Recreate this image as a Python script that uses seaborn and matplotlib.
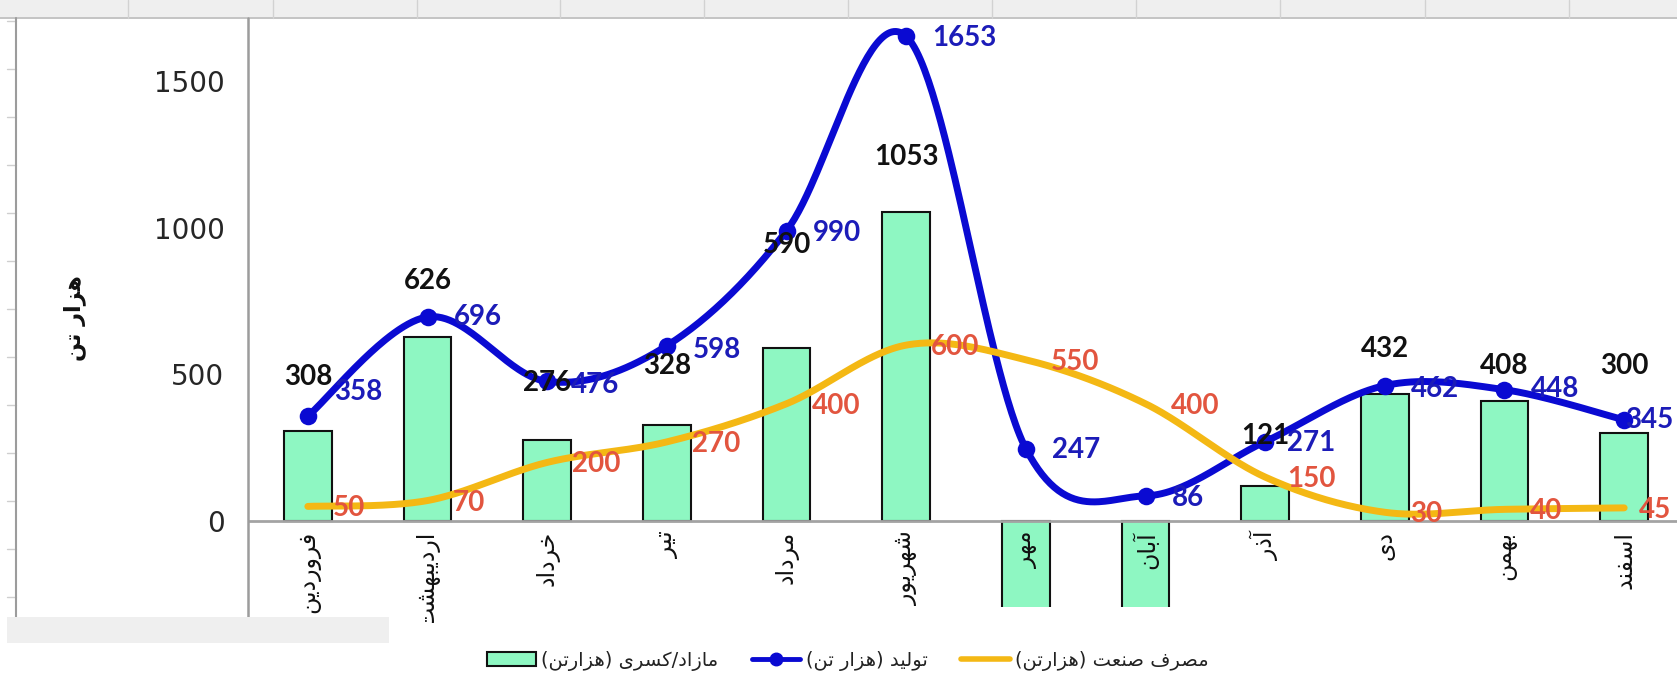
import numpy as np
import pandas as pd
import matplotlib
matplotlib.use("Agg")
import matplotlib.pyplot as plt
import matplotlib.transforms as mtransforms
from matplotlib.lines import Line2D
from matplotlib.patches import Rectangle
import seaborn as sns

# ---------------------------------------------------------------- data
months = ["فروردین", "اردیبهشت", "خرداد", "تیر", "مرداد", "شهریور",
          "مهر", "آبان", "آذر", "دی", "بهمن", "اسفند"]
production = [358, 696, 476, 598, 990, 1653, 247, 86, 271, 462, 448, 345]
consumption = [50, 70, 200, 270, 400, 600, 550, 400, 150, 30, 40, 45]
balance = [308, 626, 276, 328, 590, 1053, -303, -314, 121, 432, 408, 300]

y_caption = "هزار تن"
bar_name = "مازاد/کسری (هزارتن)"
prod_name = "تولید (هزار تن)"
cons_name = "مصرف صنعت (هزارتن)"
y_ticks = [0, 500, 1000, 1500]

# label placement (pixel offsets from the mark)
bar_label_dy = [54, 56, 57, 59, 103, 55, -30, -30, 50, 45, 35, 67]
prod_label_dx = [26, 26, 24, 26, 26, 26, 26, 26, 22, 26, 26, 1]
prod_label_dy = [24, 0, -4, -4, -2, -2, -1, -2, -1, -3, 1, 0]
cons_label_dx = [25, 25, 25, 25, 25, 25, 25, 25, 22, 25, 25, 15]

# colours
MINT = "#8ef7c2"
BLUE = "#0a0ad2"
BLUE_TXT = "#1c1cb8"
GOLD = "#f4b814"
RED_TXT = "#e2553f"


# ------------------------------------------------ Persian text shaping
_FORMS = {
    "ا": (0xFE8D, 0xFE8E, None, None),
    "آ": (0xFE81, 0xFE82, None, None),
    "د": (0xFEA9, 0xFEAA, None, None),
    "ذ": (0xFEAB, 0xFEAC, None, None),
    "ر": (0xFEAD, 0xFEAE, None, None),
    "ز": (0xFEAF, 0xFEB0, None, None),
    "و": (0xFEED, 0xFEEE, None, None),
    "ب": (0xFE8F, 0xFE90, 0xFE91, 0xFE92),
    "ت": (0xFE95, 0xFE96, 0xFE97, 0xFE98),
    "خ": (0xFEA5, 0xFEA6, 0xFEA7, 0xFEA8),
    "س": (0xFEB1, 0xFEB2, 0xFEB3, 0xFEB4),
    "ش": (0xFEB5, 0xFEB6, 0xFEB7, 0xFEB8),
    "ص": (0xFEB9, 0xFEBA, 0xFEBB, 0xFEBC),
    "ع": (0xFEC9, 0xFECA, 0xFECB, 0xFECC),
    "ف": (0xFED1, 0xFED2, 0xFED3, 0xFED4),
    "ل": (0xFEDD, 0xFEDE, 0xFEDF, 0xFEE0),
    "م": (0xFEE1, 0xFEE2, 0xFEE3, 0xFEE4),
    "ن": (0xFEE5, 0xFEE6, 0xFEE7, 0xFEE8),
    "ه": (0xFEE9, 0xFEEA, 0xFEEB, 0xFEEC),
    "ی": (0xFBFC, 0xFBFD, 0xFBFE, 0xFBFF),
    "ک": (0xFB8E, 0xFB8F, 0xFB90, 0xFB91),
}


def shape(text):
    """Contextual letter forms + right-to-left visual order."""
    def joins_forward(c):
        return c in _FORMS and _FORMS[c][2] is not None

    out = []
    for i, c in enumerate(text):
        if c not in _FORMS:
            out.append(c)
            continue
        iso, fin, ini, med = _FORMS[c]
        prev_j = i > 0 and joins_forward(text[i - 1])
        next_j = joins_forward(c) and i + 1 < len(text) and text[i + 1] in _FORMS
        if prev_j and next_j:
            g = med
        elif prev_j:
            g = fin
        elif next_j:
            g = ini
        else:
            g = iso
        out.append(chr(g))
    mirror = {"(": ")", ")": "("}
    return "".join(mirror.get(c, c) for c in reversed(out))


def smooth(xs, ys, n=60):
    """Cubic Bezier smoothing through every point (Catmull-Rom tangents)."""
    x = np.asarray(xs, float)
    y = np.asarray(ys, float)
    px = np.concatenate([[x[0]], x, [x[-1]]])
    py = np.concatenate([[y[0]], y, [y[-1]]])
    t = np.linspace(0, 1, n)[:, None]
    segs = []
    for i in range(len(x) - 1):
        p0 = np.array([px[i], py[i]])
        p1 = np.array([px[i + 1], py[i + 1]])
        p2 = np.array([px[i + 2], py[i + 2]])
        p3 = np.array([px[i + 3], py[i + 3]])
        c1 = p1 + (p2 - p0) / 6.0
        c2 = p2 - (p3 - p1) / 6.0
        b = ((1 - t) ** 3) * p1 + 3 * ((1 - t) ** 2) * t * c1 \
            + 3 * (1 - t) * t ** 2 * c2 + t ** 3 * p2
        segs.append(b if i == 0 else b[1:])
    pts = np.vstack(segs)
    return pts[:, 0], pts[:, 1]


# ---------------------------------------------------------------- figure
sns.set_style("white")
plt.rcParams["font.family"] = ["DejaVu Sans"]

W, H = 1677, 677
fig = plt.figure(figsize=(W / 100, H / 100), dpi=100)
fig.patch.set_facecolor("white")


def fx(px):
    return px / W


def fy(py):
    return 1 - py / H


top_px, bot_px, left_px, right_px = 19, 607, 248, 1684
ax = fig.add_axes([left_px / W, 1 - bot_px / H,
                   (right_px - left_px) / W, (bot_px - top_px) / H])
ax.set_facecolor("white")

pos = np.arange(len(months))
df = pd.DataFrame({"pos": pos, "month": months, "balance": balance,
                   "production": production, "consumption": consumption})

# surplus / deficit bars
sns.barplot(data=df, x="pos", y="balance", native_scale=True, width=0.4,
            color=MINT, edgecolor="#111111", linewidth=1.5, saturation=1,
            ax=ax, zorder=2)

# production curve
sx, sy = smooth(df["pos"], df["production"])
sns.lineplot(x=sx, y=sy, sort=False, estimator=None, color=BLUE,
             linewidth=5.0, ax=ax, zorder=4)
sns.scatterplot(data=df, x="pos", y="production", color=BLUE, s=160,
                edgecolor=BLUE, linewidth=0, ax=ax, zorder=5)

# industry consumption curve
cx, cy = smooth(df["pos"], df["consumption"])
sns.lineplot(x=cx, y=cy, sort=False, estimator=None, color=GOLD,
             linewidth=5.0, ax=ax, zorder=6)

ax.set_xlim(-0.5, len(months) - 0.5)
ax.set_ylim(-293, 1712)
ax.set_xlabel("")
ax.set_ylabel("")

# axes styling
for s in ["top", "right", "bottom", "left"]:
    ax.spines[s].set_visible(False)
ax.axhline(0, color="#a3a3a3", linewidth=2, zorder=3)
ax.set_yticks(y_ticks)
ax.set_yticklabels([str(v) for v in y_ticks], fontsize=20, color="#262626")
ax.tick_params(axis="y", length=0, pad=17)
ax.set_xticks([])

# month names hanging below the zero line, cut where the sheet strip starts
below = mtransforms.offset_copy(ax.transData, fig=fig, y=-10, units="dots")
label_clip = mtransforms.TransformedBbox(
    mtransforms.Bbox([[fx(left_px), fy(623)], [1.0, fy(top_px)]]),
    fig.transFigure)
for p, m in zip(pos, months):
    t = ax.text(p, 0, shape(m), transform=below, rotation=90, ha="center",
                va="top", fontsize=17, color="#111111", zorder=7)
    t.set_clip_box(label_clip)
    t.set_clip_on(True)

# data labels
lbl = dict(family="Lato", fontweight="bold", fontsize=20, zorder=8,
           clip_on=True)
for p, v, dy in zip(pos, balance, bar_label_dy):
    ax.annotate(str(v), (p, v), xytext=(0, dy), textcoords="offset pixels",
                ha="center", va="center", color="#111111", **lbl)
for p, v, dx, dy in zip(pos, production, prod_label_dx, prod_label_dy):
    ax.annotate(str(v), (p, v), xytext=(dx, dy), textcoords="offset pixels",
                ha="left", va="center", color=BLUE_TXT, **lbl)
for p, v, dx in zip(pos, consumption, cons_label_dx):
    ax.annotate(str(v), (p, v), xytext=(dx, -2), textcoords="offset pixels",
                ha="left", va="center", color=RED_TXT, **lbl)

# y-axis caption
fig.text(fx(75), fy(318), shape(y_caption), rotation=90, ha="center",
         va="center", fontsize=16, fontweight="bold", color="#111111")

# ------------------------------------------------ sheet frame around chart
# column header strip
fig.add_artist(Rectangle((0, fy(18)), 1, 18 / H, transform=fig.transFigure,
                         facecolor="#efefef", edgecolor="none", zorder=0))
fig.add_artist(Line2D([0, 1], [fy(18), fy(18)], transform=fig.transFigure,
                      color="#c4c4c4", linewidth=1.4))
for cx_px in [128, 273, 417, 560, 704, 848, 992, 1136, 1280, 1425, 1569]:
    fig.add_artist(Line2D([fx(cx_px)] * 2, [fy(18), 1],
                          transform=fig.transFigure, color="#d2d2d2",
                          linewidth=1.0))
# row stubs on the left margin
for ry in range(597, 20, -48):
    fig.add_artist(Line2D([fx(7), fx(16)], [fy(ry)] * 2,
                          transform=fig.transFigure, color="#cfcfcf",
                          linewidth=1.0))
# chart frame and value axis line
fig.add_artist(Line2D([fx(16)] * 2, [fy(617), fy(18)],
                      transform=fig.transFigure, color="#9c9c9c",
                      linewidth=1.5))
fig.add_artist(Line2D([fx(248)] * 2, [fy(617), fy(18)],
                      transform=fig.transFigure, color="#9c9c9c",
                      linewidth=1.8))
# scroll strip at the lower left
fig.add_artist(Rectangle((fx(7), fy(643)), (389 - 7) / W, 26 / H,
                         transform=fig.transFigure, facecolor="#efefef",
                         edgecolor="none", zorder=10))

# legend
handles = [
    Rectangle((0, 0), 1, 1, facecolor=MINT, edgecolor="#111111",
              linewidth=1.5),
    Line2D([], [], color=BLUE, linewidth=3.5, marker="o", markersize=9),
    Line2D([], [], color=GOLD, linewidth=4),
]
labels = [shape(bar_name), shape(prod_name), shape(cons_name)]
fig.legend(handles, labels, loc="center", bbox_to_anchor=(fx(848), fy(661)),
           ncol=3, frameon=False, fontsize=14, handlelength=2.5,
           handletextpad=0.3, columnspacing=1.7, labelcolor="#222222")

fig.savefig("out.png", dpi=100, facecolor="white")
